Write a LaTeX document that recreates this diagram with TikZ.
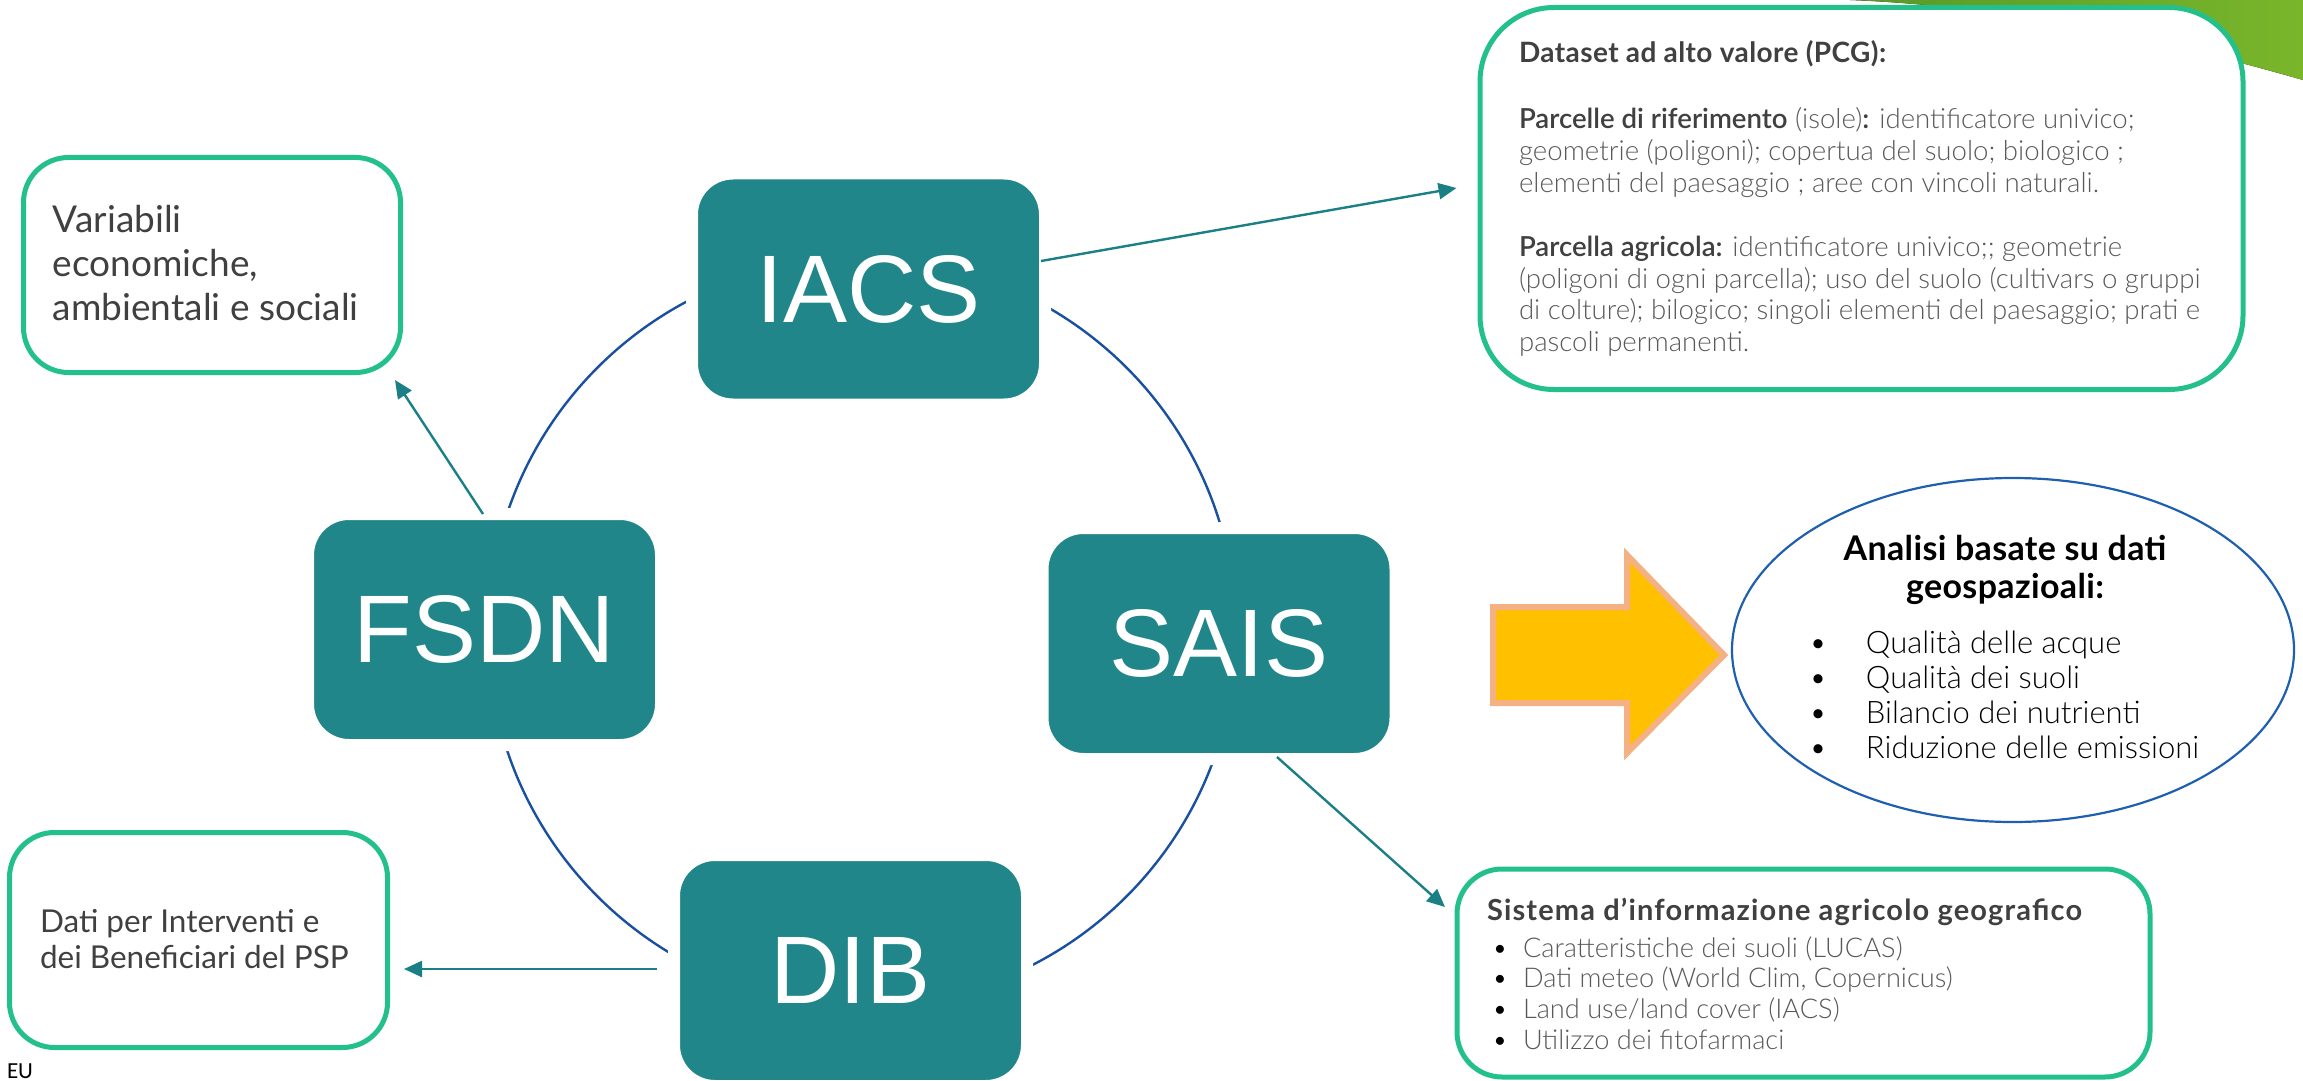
\documentclass[tikz,border=0pt]{standalone}
\usepackage{fontspec}
\setmainfont{Lato}
\newfontfamily\lightfont{Lato}[UprightFont=* Light, BoldFont=* Semibold]
\newfontfamily\corefont{Liberation Sans}
\newfontfamily\notefont{Carlito}
\newfontfamily\headfont{Lato Bold}
\usetikzlibrary{arrows.meta,calc,shapes.geometric}

\definecolor{boxteal}{RGB}{32,134,137}
\definecolor{boxgreen}{RGB}{35,192,139}
\definecolor{linkteal}{RGB}{27,128,133}
\definecolor{ringblue}{RGB}{25,80,160}
\definecolor{ellblue}{RGB}{30,95,175}
\definecolor{textdark}{RGB}{64,64,64}
\definecolor{textbody}{RGB}{89,89,89}
\definecolor{arrowfill}{RGB}{255,192,0}
\definecolor{arrowedge}{RGB}{244,177,131}
\definecolor{leafA}{RGB}{88,152,40}
\definecolor{leafB}{RGB}{122,182,42}

\begin{document}
\begin{tikzpicture}[x=0.5pt,y=-0.5pt,
  core/.style={rectangle, rounded corners=20.5pt, fill=boxteal, draw=white,
    line width=6pt, outer sep=0pt, inner sep=0pt, text=white,
    minimum width=176.5pt, minimum height=115.5pt,
    font=\corefont\fontsize{48pt}{56pt}\selectfont},
  infobox/.style={rectangle, draw=boxgreen, line width=2.5pt, fill=white,
    outer sep=0pt, inner sep=0pt},
  link/.style={draw=linkteal, line width=1.2pt,
    -{Triangle[length=9pt,width=8pt]}},
  ring/.style={draw=ringblue, line width=1.2pt},
  % multi-line texts are placed by the baseline of their last line
  txt/.style={anchor=base west, align=left, inner sep=0pt, outer sep=0pt},
]
\useasboundingbox (0,0) rectangle (2303,1081);

% decorative leaf in the upper right corner
\fill[left color=leafA, right color=leafB]
  (1850,0) .. controls (2000,6) and (2150,36) .. (2303,80) -- (2303,0) -- cycle;

% ring joining the four systems
\coordinate (hub) at (862,632);
\draw[ring] (hub) circle [radius=374];

% the four systems
\node[core] (iacs) at (868.5,289)   {IACS};
\node[core] (fsdn) at (484.5,629.5) {FSDN};
\node[core] (sais) at (1219,643.5)  {SAIS};
\node[core] (dib)  at (850.5,970.5) {DIB};

% information boxes
\node[infobox, rounded corners=22.5pt, minimum width=188.5pt, minimum height=107.5pt]
  (var) at (212,265) {};
\node[infobox, rounded corners=22.5pt, minimum width=189pt, minimum height=107.5pt]
  (psp) at (198.5,940) {};
\node[infobox, rounded corners=37pt, minimum width=381.5pt, minimum height=191pt]
  (data) at (1861.5,198.5) {};
\node[infobox, rounded corners=22.5pt, minimum width=346.5pt, minimum height=104pt]
  (siag) at (1803.5,973) {};

% analysis ellipse and the block arrow pointing at it
\node[ellipse, draw=ellblue, line width=1.1pt, minimum width=281pt, minimum height=172pt,
  inner sep=0pt] (geo) at (2013,650) {};
\draw[fill=arrowfill, draw=arrowedge, line width=3pt, line join=miter]
  (1493,607) -- (1627,607) -- (1627,555) -- (1724,655) -- (1627,753)
  -- (1627,703) -- (1493,703) -- cycle;

% connectors
\draw[link] ($(iacs.east)+(-4,-28)$) -- ($(data.west)+(-23.5,-10.5)$);
\draw[link] ($(sais.south)+(58,-2)$) -- ($(siag.north west)+(-12,38)$);
\draw[link] ($(fsdn.north)+(-1.5,0)$) -- ($(var.south east)+(-5.5,7.5)$);
\draw[link] ($(dib.west)+(-17,-1.5)$) -- ($(psp.east)+(16.5,29)$);

% texts
\node[txt, text=textdark, font=\fontsize{18.5pt}{22pt}\selectfont] (vartext) at (53,320)
  {Variabili\\economiche,\\ambientali e sociali};
\node[txt, text=textdark, font=\fontsize{15.75pt}{18pt}\selectfont] (psptext) at (40,968)
  {Dati per Interventi e\\dei Beneficiari del PSP};

\node[txt, text=textdark, font=\headfont\addfontfeature{LetterSpace=1.5}\fontsize{14pt}{16pt}\selectfont]
  (datatitle) at (1519,63) {Dataset ad alto valore (PCG):};
\node[txt, text=textbody, font=\lightfont\fontsize{13.8pt}{16pt}\selectfont] (dataone) at (1519,192)
  {{\color{textdark}\bfseries Parcelle di riferimento} (isole){\color{textdark}\bfseries :} identificatore univico;\\
   geometrie (poligoni); copertua del suolo; biologico ;\\
   elementi del paesaggio ; aree con vincoli naturali.};
\node[txt, text=textbody, font=\lightfont\fontsize{13.8pt}{15.7pt}\selectfont] (datatwo) at (1519,351)
  {{\color{textdark}\bfseries Parcella agricola:} identificatore univico;; geometrie\\
   (poligoni di ogni parcella); uso del suolo (cultivars o gruppi\\
   di colture); bilogico; singoli elementi del paesaggio; prati e\\
   pascoli permanenti.};

\node[txt, text=textdark, font=\headfont\addfontfeature{LetterSpace=4}\fontsize{14.5pt}{16pt}\selectfont]
  (siagtitle) at (1487,920) {Sistema d’informazione agricolo geografico};
\node[txt, text=textbody, font=\lightfont\fontsize{13.6pt}{15.33pt}\selectfont] (siaglist) at (1492,1049)
  {\makebox[15.5pt][l]{\color{black}•}Caratteristiche dei suoli (LUCAS)\\
   \makebox[15.5pt][l]{\color{black}•}Dati meteo (World Clim, Copernicus)\\
   \makebox[15.5pt][l]{\color{black}•}Land use/land cover (IACS)\\
   \makebox[15.5pt][l]{\color{black}•}Utilizzo dei fitofarmaci};

\node[anchor=base, align=center, inner sep=0pt,
  font=\headfont\addfontfeature{LetterSpace=1}\fontsize{17pt}{19pt}\selectfont]
  (geotitle) at (2005,598) {Analisi basate su dati\\geospazioali:};
\node[txt, font=\lightfont\fontsize{15.5pt}{17.5pt}\selectfont] (geolist) at (1809,758)
  {\makebox[28.5pt][l]{•}Qualità delle acque\\
   \makebox[28.5pt][l]{•}Qualità dei suoli\\
   \makebox[28.5pt][l]{•}Bilancio dei nutrienti\\
   \makebox[28.5pt][l]{•}Riduzione delle emissioni};

\node[txt, font=\notefont\fontsize{11.5pt}{13pt}\selectfont] (eu) at (7,1078) {EU};
\end{tikzpicture}
\end{document}
